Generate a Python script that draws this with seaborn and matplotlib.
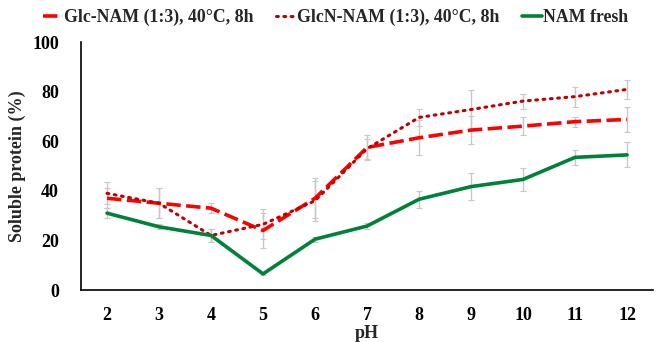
import numpy as np
import pandas as pd
import matplotlib.pyplot as plt
import seaborn as sns

ph = [2, 3, 4, 5, 6, 7, 8, 9, 10, 11, 12]
glc = [37, 35, 33, 24, 37, 57.5, 61.4, 64.5, 66.1, 67.9, 68.8]
glc_err = [4, 6, 2, 7, 8, 5, 7, 5.6, 3.7, 2, 5]
glcn = [39, 35, 22, 26.5, 36, 57, 69.6, 72.8, 76.2, 78, 80.9]
glcn_err = [4.5, 6, 2.5, 6, 8, 4, 3.5, 8, 3, 4, 3.8]
nam = [31, 25.5, 22, 6.5, 20.5, 25.8, 36.6, 41.7, 44.6, 53.5, 54.5]
nam_err = [2, 1, 2.5, 0.5, 1, 1.3, 3.5, 5.3, 4.7, 3, 5]

names = ['Glc-NAM (1:3), 40°C, 8h', 'GlcN-NAM (1:3), 40°C, 8h', 'NAM fresh']
colors = ['#FF0000', '#C00000', '#00813A']
styles = [(0, (4, 1.5)), (0, (0.6, 1.8)), '-']

sns.set_theme(style="white")
plt.rcParams['font.family'] = ['Liberation Serif', 'DejaVu Serif']
plt.rcParams['font.weight'] = 'bold'

fig = plt.figure(figsize=(6.56, 3.42), dpi=100)
ax = fig.add_axes([0.1235, 0.152, 0.8720, 0.725])

series = [(glc, glc_err), (glcn, glcn_err), (nam, nam_err)]
for (vals, errs), name, col, ls in zip(series, names, colors, styles):
    df = pd.DataFrame({'pH': ph, 'val': vals})
    ax.errorbar(ph, vals, yerr=errs, fmt='none', ecolor='#c8c8c8',
                elinewidth=1, capsize=2, capthick=0.8, zorder=1)
    sns.lineplot(data=df, x='pH', y='val', ax=ax, color=col, label=name,
                 linewidth=2.6 if name != names[1] else 2.2, linestyle=ls,
                 dash_capstyle='round' if name == names[1] else 'butt', zorder=3)

ax.set_xlim(1.5, 12.5)
ax.set_ylim(0, 100)
ax.set_xticks(ph)
ax.set_xticks(np.arange(1.5, 12.6, 1), minor=True)
ax.set_yticks([0, 20, 40, 60, 80, 100])
ax.tick_params(axis='both', which='both', direction='out', colors='#bbbbbb',
               labelcolor='black', labelsize=13, length=4, width=0.8)
ax.tick_params(axis='x', which='major', pad=8)
ax.tick_params(axis='y', which='major', pad=12)
for lab in ax.get_xticklabels() + ax.get_yticklabels():
    lab.set_fontweight('bold')
ax.set_xlabel('pH', fontsize=13, fontweight='bold', labelpad=1)
ax.set_ylabel('Soluble protein (%)', fontsize=13, fontweight='bold', labelpad=4)
sns.despine(ax=ax)
for s in ['left', 'bottom']:
    ax.spines[s].set_color('black')
    ax.spines[s].set_linewidth(1.2)

ax.legend(loc='lower center', bbox_to_anchor=(0.445, 1.0), ncol=3, frameon=False,
          handlelength=1.1, handletextpad=0.05, columnspacing=1.3,
          prop={'weight': 'bold', 'size': 12.8}, borderaxespad=0.5)

fig.savefig('out.png', dpi=100)
